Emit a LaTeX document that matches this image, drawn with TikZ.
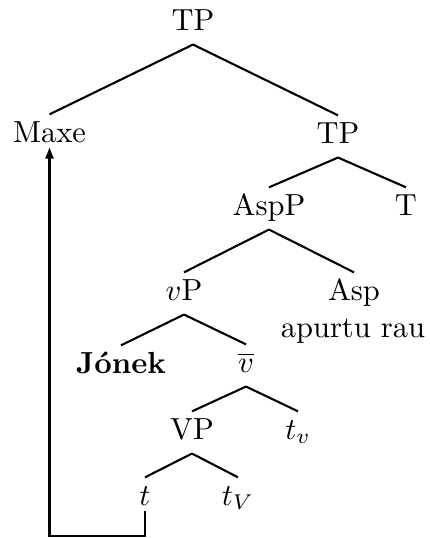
\documentclass[tikz,border=0pt]{standalone}
\usetikzlibrary{arrows.meta}
\begin{document}
\begin{tikzpicture}[x=1pt,y=1pt,
  lbl/.style={anchor=base,scale=3.05,inner xsep=0pt,inner ysep=1.97pt,text height=6.9pt,text depth=2.6pt},
  edge/.style={line width=2.1pt},
  move/.style={line width=2.1pt,-{Triangle[length=11pt,width=8pt]}}]
\useasboundingbox (0,0) rectangle (430,-538);
\node[lbl] (TP) at (193,-30) {TP};
\node[lbl] (Maxe) at (49.5,-142) {Maxe};
\node[lbl] (TP2) at (338,-143) {TP};
\node[lbl] (AspP) at (269,-215) {AspP};
\node[lbl] (T) at (406,-215) {T};
\node[lbl] (vP) at (184,-300) {$v$P};
\node[lbl] (Asp) at (354,-300) {Asp};
\node[lbl] (apurtu) at (353,-337) {apurtu rau};
\node[lbl] (Jonek) at (121,-373) {\textbf{J\'onek}};
\node[lbl] (vbar) at (246,-372) {$\overline{v}$};
\node[lbl] (VP) at (192,-439) {VP};
\node[lbl] (tv) at (298,-439) {$t_v$};
\node[lbl] (t) at (145,-505) {$t$};
\node[lbl] (tV) at (238,-505) {$t_V$};
\draw[edge] (TP.south) -- (Maxe.north);
\draw[edge] (TP.south) -- (TP2.north);
\draw[edge] (TP2.south) -- (AspP.north);
\draw[edge] (TP2.south) -- (T.north);
\draw[edge] (AspP.south) -- (vP.north);
\draw[edge] (AspP.south) -- (Asp.north);
\draw[edge] (vP.south) -- (Jonek.north);
\draw[edge] (vP.south) -- (vbar.north);
\draw[edge] (vbar.south) -- (VP.north);
\draw[edge] (vbar.south) -- (tv.north);
\draw[edge] (VP.south) -- (t.north);
\draw[edge] (VP.south) -- (tV.north);
\draw[move] ([yshift=9pt]t.south) -- ++(0,-25) -| ([yshift=9pt]Maxe.south);
\end{tikzpicture}
\end{document}
